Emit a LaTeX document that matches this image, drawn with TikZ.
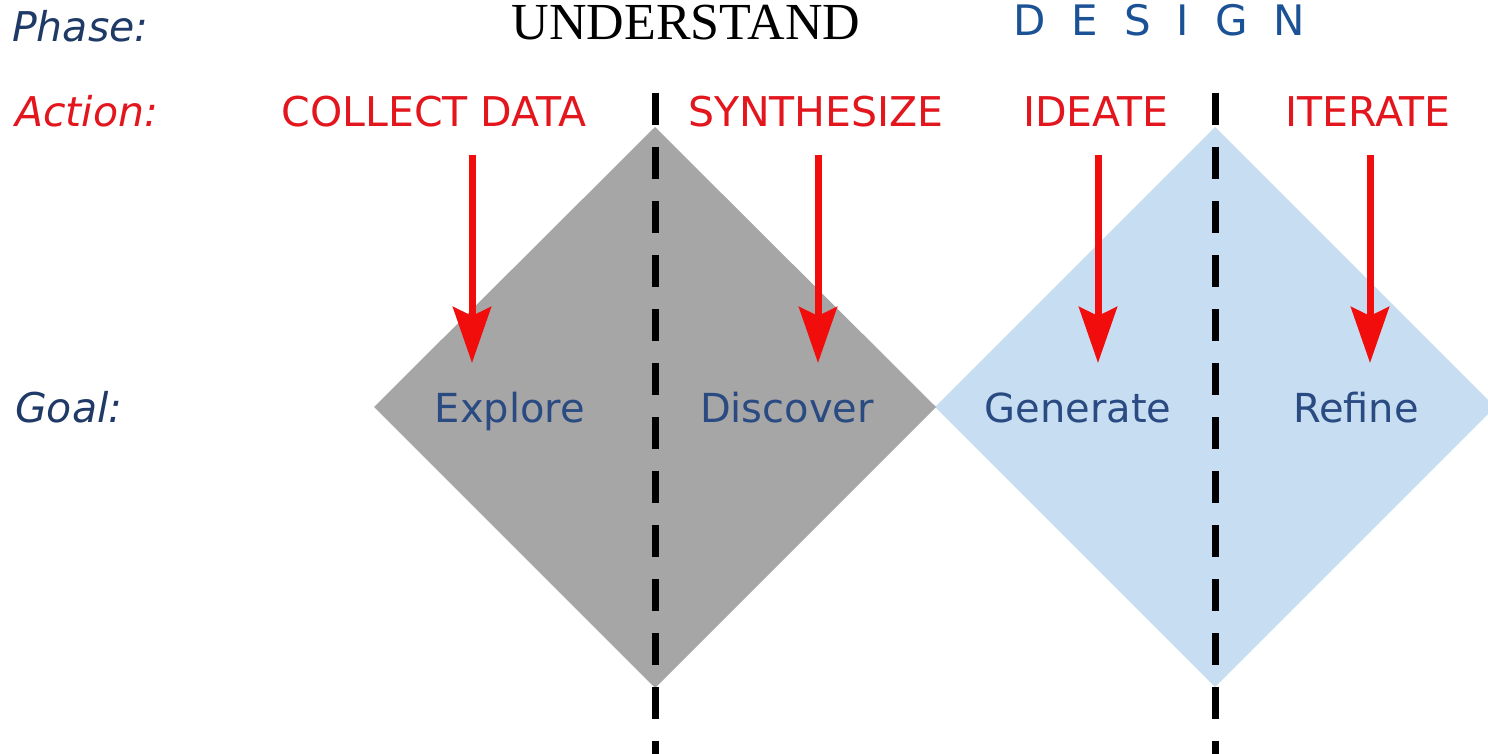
\documentclass[tikz,border=0pt]{standalone}
\usepackage{fontspec}
\setmainfont{DejaVu Sans}
\newfontfamily\timesfont{Liberation Serif}
\usetikzlibrary{arrows.meta}
\definecolor{navy}{HTML}{1F3A66}
\definecolor{goalblue}{HTML}{2A4A82}
\definecolor{designblue}{HTML}{1B5296}
\definecolor{actred}{HTML}{E3161E}
\definecolor{arrred}{HTML}{F20D0D}
\definecolor{graydia}{HTML}{A6A6A6}
\definecolor{bluedia}{HTML}{C7DDF2}
\tikzset{
  rowlabel/.style={anchor=base west, inner sep=0pt, font=\fontsize{41}{41}\selectfont\itshape},
  actionlbl/.style={anchor=base, inner sep=0pt, text=actred, font=\fontsize{41}{41}\selectfont},
  goallbl/.style={anchor=base, inner sep=0pt, text=goalblue, font=\fontsize{40}{40}\selectfont},
  divider/.style={line width=7pt, dash pattern=on 32pt off 22pt},
  actarrow/.style={line width=7pt, draw=arrred, -{Stealth[length=56pt, width=38pt, inset=9pt]}},
}
\begin{document}
\begin{tikzpicture}[x=1pt,y=-1pt]
\useasboundingbox[fill=white] (0,0) rectangle (1488,754);
% diamonds
\coordinate (bc) at (1215,407);
\fill[bluedia] (935,407) -- (1215,127) -- (1495,407) -- (1215,687) -- cycle;
\coordinate (gc) at (655,407);
\fill[graydia] (374,407) -- (655,127) -- (936,407) -- (655,688) -- cycle;
% dividers
\coordinate (d1t) at (655,93);
\coordinate (d1b) at (655,760);
\coordinate (d2t) at (1215,93);
\coordinate (d2b) at (1215,760);
\draw[divider] (d1t) -- (d1b);
\draw[divider] (d2t) -- (d2b);
% row labels
\node[rowlabel, text=navy] (phase) at (12,42) {Phase:};
\node[rowlabel, text=actred] (action) at (15,127) {Action:};
\node[rowlabel, text=navy] (goal) at (15,422) {Goal:};
% phases
\node[anchor=base, inner sep=0pt, font=\timesfont\fontsize{52}{52}\selectfont] (understand) at (686,40) {UNDERSTAND};
\node[anchor=base west, inner sep=0pt, text=designblue, font=\fontsize{42}{42}\selectfont] (design) at (1013,36) {D\hspace{26pt}E\hspace{26pt}S\hspace{26pt}I\hspace{26pt}G\hspace{26pt}N};
% actions
\node[actionlbl] (collect) at (434,127) {COLLECT DATA};
\node[actionlbl] (synth) at (816,127) {SYNTHESIZE};
\node[actionlbl] (ideate) at (1096,127) {IDEATE};
\node[actionlbl] (iterate) at (1368,127) {ITERATE};
% goals
\node[goallbl] (explore) at (510,422) {Explore};
\node[goallbl] (discover) at (787,422) {Discover};
\node[goallbl] (generate) at (1078,422) {Generate};
\node[goallbl] (refine) at (1356,422) {Refine};
% arrows
\coordinate (a1s) at (472,155); \coordinate (a1e) at (472,363);
\coordinate (a2s) at (818,155); \coordinate (a2e) at (818,363);
\coordinate (a3s) at (1098,155); \coordinate (a3e) at (1098,363);
\coordinate (a4s) at (1370,155); \coordinate (a4e) at (1370,363);
\draw[actarrow] (a1s) -- (a1e);
\draw[actarrow] (a2s) -- (a2e);
\draw[actarrow] (a3s) -- (a3e);
\draw[actarrow] (a4s) -- (a4e);
\end{tikzpicture}
\end{document}
